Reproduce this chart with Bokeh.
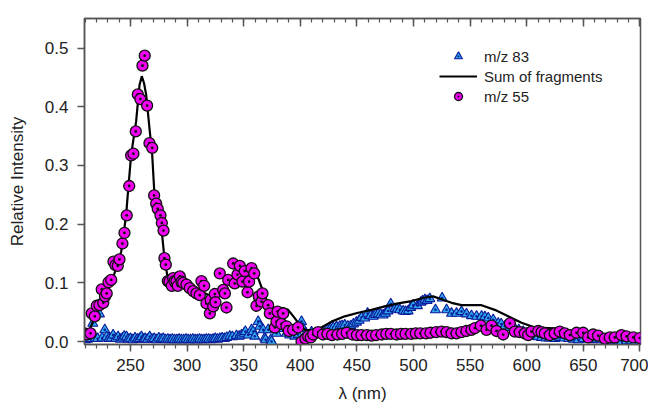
from bokeh.plotting import figure
from bokeh.models import (ColumnDataSource, LinearAxis, SingleIntervalTicker,
                          PrintfTickFormatter, Legend, LegendItem)
from bokeh.embed import file_html
from bokeh.resources import INLINE

# m/z 55 (magenta circles)
mz55_x = [209.6, 211.7, 214.7, 215.8, 218.5, 220.2, 222.6, 224.6, 226.0, 227.5,
          229.0, 230.6, 233.0, 235.0, 236.8, 238.8, 240.3, 242.9, 244.7, 246.7,
          248.9, 250.6, 252.6, 254.7, 256.5, 258.7, 260.6, 262.6, 264.7, 266.8,
          269.2, 270.9, 272.7, 274.1, 276.5, 277.7, 279.2, 280.0, 281.2, 283.0,
          284.5, 286.5, 287.7, 288.9, 290.6, 291.8, 293.6, 295.1, 296.5, 299.5,
          302.4, 305.4, 308.3, 311.2, 312.7, 315.1, 317.1, 320.1, 320.9, 323.1,
          324.5, 325.1, 328.9, 331.9, 333.4, 334.8, 336.3, 340.7, 342.1, 344.5,
          346.6, 348.9, 350.9, 353.4, 354.8, 356.9, 359.3, 361.3, 363.3, 365.7,
          366.6, 371.6, 373.1, 377.5, 379.0, 379.9, 383.4, 384.9, 387.8, 389.8,
          393.7, 398.1, 401.1, 404.6, 407.0, 409.3, 411.4, 415.8,
          420, 424, 428, 433, 437, 441, 446, 450, 454, 459, 463, 467, 472, 476,
          480, 485, 489, 493, 498, 502, 506, 511, 515, 520,
          524.7, 529.2, 533.6, 538.0, 542.4, 546.8, 551.2, 554.2, 559.5, 564.5,
          568.9, 573.3, 579.2, 585.1, 589.5, 593.9, 598.3, 601.3, 604.2, 610.2,
          613.1, 616.0, 620.4, 624.8, 629.2, 633.7, 638.1, 644.0, 649.9, 654.3,
          658.7, 663.1, 669.0, 673.4, 677.8, 683.7, 688.2, 694.1, 699.9]
mz55_y = [0.014, 0.012, 0.014, 0.048, 0.043, 0.061, 0.062, 0.089, 0.066, 0.077,
          0.082, 0.101, 0.105, 0.136, 0.130, 0.129, 0.140, 0.167, 0.185, 0.215,
          0.265, 0.317, 0.320, 0.358, 0.421, 0.413, 0.470, 0.487, 0.402, 0.338,
          0.330, 0.249, 0.235, 0.226, 0.215, 0.202, 0.189, 0.142, 0.131, 0.103,
          0.102, 0.095, 0.108, 0.103, 0.103, 0.095, 0.111, 0.102, 0.100, 0.097,
          0.091, 0.086, 0.082, 0.079, 0.103, 0.095, 0.065, 0.048, 0.071, 0.060,
          0.081, 0.067, 0.116, 0.088, 0.082, 0.058, 0.105, 0.133, 0.099, 0.114,
          0.129, 0.102, 0.120, 0.084, 0.102, 0.125, 0.116, 0.061, 0.077, 0.068,
          0.082, 0.062, 0.048, 0.024, 0.034, 0.051, 0.030, 0.048, 0.026, 0.018,
          0.020, 0.024, 0.000, 0.005, 0.009, 0.007, 0.012, 0.016,
          0.012, 0.013, 0.011, 0.012, 0.013, 0.015, 0.012, 0.011, 0.011, 0.011,
          0.010, 0.011, 0.012, 0.013, 0.013, 0.012, 0.013, 0.013, 0.013, 0.014,
          0.014, 0.014, 0.015, 0.016,
          0.017, 0.016, 0.014, 0.014, 0.016, 0.018, 0.020, 0.023, 0.027, 0.020,
          0.027, 0.018, 0.012, 0.031, 0.017, 0.016, 0.014, 0.011, 0.017, 0.018,
          0.016, 0.014, 0.011, 0.014, 0.017, 0.014, 0.011, 0.015, 0.015, 0.007,
          0.012, 0.010, 0.005, 0.007, 0.007, 0.011, 0.009, 0.007, 0.006]

# m/z 83 (blue triangles)
mz83_x = [210, 212, 214, 216.7, 219, 221, 222.6, 225, 227.3, 229, 231, 233, 234.7,
          237, 239.1, 241, 243, 244.5, 246.5, 248, 250, 252, 254, 256, 258, 259.7,
          261.5, 263, 265, 267, 269, 271, 273, 275, 277, 279, 281, 283, 285, 287,
          289, 291, 293, 295, 297, 299, 301, 303, 305, 307, 309, 311, 313, 315,
          317, 319, 321, 323, 325, 327, 329, 331, 333, 335,
          337.7, 340, 343.6, 346, 348.1, 350.4, 351.5, 354, 356.9, 358.4, 359.8,
          362.8, 364.2, 367.2, 368.6, 369.3, 371.6, 373.9, 374.6, 377.5, 379,
          381.9, 384.9, 387.8, 390.7, 392, 395.1, 398, 401.1, 402.6, 405, 407,
          409.9, 413, 416, 420.2, 424, 426.5, 429.1, 432, 434.9, 437, 439.3, 442,
          444.6, 447, 449.6, 452, 454.1, 457, 459.4, 462, 464.4, 466.5, 468.8,
          471, 473.2, 475.3, 477.5, 479.9, 483.5, 485.5, 487.9, 490.9, 493,
          495.3, 497.5, 499.7, 503.5, 506.5, 508, 510, 512, 514.4, 519.4, 525.3,
          529.2, 533.6, 538, 542.4, 546.8, 551.2, 555.7, 560.1, 563, 566, 570.4,
          574.8, 577.5, 580.7, 585, 589.5, 593, 596.9, 600, 602.7, 605, 607.2,
          610, 613.1, 617, 620, 624.8, 629, 633, 637, 641, 645.5, 650, 654, 658,
          662, 666, 670, 675, 680, 684, 688, 692, 696, 700]
mz83_y = [0.003, 0.004, 0.005, 0.031, 0.006, 0.005, 0.047, 0.006, 0.020, 0.008,
          0.005, 0.006, 0.011, 0.005, 0.008, 0.004, 0.006, 0.009, 0.008, 0.004,
          0.005, 0.003, 0.006, 0.004, 0.005, 0.008, 0.004, 0.005, 0.004, 0.008,
          0.004, 0.005, 0.003, 0.006, 0.004, 0.005, 0.003, 0.004, 0.003, 0.004,
          0.003, 0.003, 0.004, 0.003, 0.003, 0.004, 0.003, 0.003, 0.004, 0.003,
          0.003, 0.004, 0.003, 0.003, 0.004, 0.004, 0.003, 0.004, 0.005, 0.004,
          0.005, 0.006, 0.005, 0.007,
          0.009, 0.008, 0.010, 0.009, 0.011, 0.014, 0.017, 0.011, 0.020, 0.017,
          0.009, 0.034, 0.026, 0.020, 0.006, 0.003, 0.020, 0.003, 0.000, 0.020,
          0.014, 0.031, 0.022, 0.014, 0.011, 0.017, 0.009, 0.012, 0.034, 0.022,
          0.014, 0.011, 0.016, 0.014, 0.015, 0.017, 0.020, 0.022, 0.024, 0.025,
          0.026, 0.027, 0.028, 0.026, 0.027, 0.030, 0.033, 0.036, 0.041, 0.040,
          0.048, 0.044, 0.043, 0.046, 0.047, 0.046, 0.045, 0.048, 0.052, 0.064,
          0.056, 0.055, 0.054, 0.052, 0.051, 0.052, 0.058, 0.062, 0.061, 0.067,
          0.069, 0.071, 0.070, 0.073, 0.054, 0.074, 0.054, 0.048, 0.048, 0.051,
          0.047, 0.044, 0.043, 0.043, 0.042, 0.040, 0.037, 0.031, 0.030, 0.026,
          0.024, 0.022, 0.020, 0.017, 0.014, 0.011, 0.010, 0.009, 0.008, 0.007,
          0.006, 0.006, 0.005, 0.007, 0.006, 0.005, 0.004, 0.003, 0.005, 0.004,
          0.003, 0.004, 0.003, 0.002, 0.002, 0.001, 0.000, 0.001, 0.001, 0.000,
          0.000]

# Sum of fragments (black line)
sum_x = [209.4, 213.8, 217.0, 221.1, 224.0, 227.0, 230.5, 234.4, 238.0, 241.8,
         246.2, 247.6, 250.6, 255.0, 258.0, 260.0, 262.0, 263.9, 266.8, 269.2,
         271.2, 274.7, 277.7, 280.0, 282.4, 286.2, 290.0, 297.7, 303.9, 312.7,
         321.6, 327.5, 334.8, 342.1, 349.6, 358.4, 362.8, 367.2, 371.6, 376.0,
         380.5, 384.9, 389.3, 395.1, 399.6, 404.0, 409.9, 418.7, 427.6, 439.3,
         451.1, 462.9, 474.6, 486.5, 498.2, 510.0, 517.4, 524.7, 533.6, 542.4,
         548.3, 554.2, 560.1, 571.8, 583.6, 595.4, 607.2, 619.0, 630.7, 642.5,
         654.3, 666.1, 677.8, 689.6, 699.9]
sum_y = [0.006, 0.020, 0.035, 0.051, 0.062, 0.074, 0.090, 0.108, 0.128, 0.153,
         0.216, 0.250, 0.318, 0.375, 0.437, 0.452, 0.440, 0.420, 0.363, 0.318,
         0.250, 0.224, 0.187, 0.142, 0.114, 0.102, 0.100, 0.099, 0.091, 0.085,
         0.077, 0.085, 0.102, 0.111, 0.114, 0.116, 0.108, 0.085, 0.065, 0.051,
         0.054, 0.057, 0.054, 0.040, 0.028, 0.020, 0.019, 0.024, 0.034, 0.043,
         0.049, 0.054, 0.060, 0.065, 0.069, 0.075, 0.077, 0.072, 0.066, 0.062,
         0.062, 0.062, 0.062, 0.054, 0.043, 0.032, 0.024, 0.023, 0.022, 0.017,
         0.011, 0.007, 0.005, 0.003, 0.002]

x_ticks_interval = 50
y_ticks_interval = 0.1

FONT = "Liberation Sans"
AXIS_COL = "#555555"

p = figure(frame_width=556, frame_height=326, x_range=(209.4, 700.5),
           y_range=(-0.005, 0.5503), output_backend="svg", toolbar_location=None,
           min_border_left=84, min_border_top=18, min_border_right=8,
           min_border_bottom=40, background_fill_color="white",
           border_fill_color="white")
p.grid.visible = False
p.outline_line_color = AXIS_COL
p.outline_line_width = 1.5

xt = SingleIntervalTicker(interval=x_ticks_interval, num_minor_ticks=5)
yt = SingleIntervalTicker(interval=y_ticks_interval, num_minor_ticks=0)
p.xaxis.ticker = xt
p.yaxis.ticker = yt
p.yaxis.formatter = PrintfTickFormatter(format="%.1f")

for ax in (p.xaxis[0], p.yaxis[0]):
    ax.axis_line_color = AXIS_COL
    ax.axis_line_width = 1.5
    ax.major_tick_line_color = AXIS_COL
    ax.major_tick_line_width = 1.5
    ax.minor_tick_line_color = AXIS_COL
    ax.minor_tick_line_width = 1.2
    ax.major_tick_in = 0
    ax.minor_tick_in = 0
    ax.major_label_text_font = FONT
    ax.major_label_text_font_size = "17px"
    ax.major_label_text_color = "#222222"
    ax.axis_label_text_font = FONT
    ax.axis_label_text_font_size = "17px"
    ax.axis_label_text_font_style = "normal"
    ax.axis_label_text_color = "#222222"

p.xaxis.major_tick_out = 7
p.xaxis.minor_tick_out = 4
p.yaxis.major_tick_out = 7
p.yaxis.minor_tick_out = 0
p.xaxis.axis_label = "λ (nm)"
p.yaxis.axis_label = "Relative Intensity"
p.xaxis.major_label_standoff = 7
p.yaxis.major_label_standoff = 9
p.xaxis.axis_label_standoff = 10
p.yaxis.axis_label_standoff = 15

top = LinearAxis(ticker=SingleIntervalTicker(interval=x_ticks_interval, num_minor_ticks=5),
                 major_tick_in=8, major_tick_out=0, minor_tick_in=4, minor_tick_out=0,
                 major_label_text_font_size="1px", major_label_text_color=None,
                 major_label_standoff=0,
                 axis_line_color=AXIS_COL, axis_line_width=1.5,
                 major_tick_line_color=AXIS_COL, major_tick_line_width=1.5,
                 minor_tick_line_color=AXIS_COL, minor_tick_line_width=1.2)
p.add_layout(top, "above")

src83 = ColumnDataSource(dict(x=mz83_x, y=mz83_y))
src55 = ColumnDataSource(dict(x=mz55_x, y=mz55_y))
srcsum = ColumnDataSource(dict(x=sum_x, y=sum_y))

r83 = p.scatter("x", "y", source=src83, marker="triangle_dot", size=10,
                fill_color="#30a8ec", line_color="#0a1a9a", line_width=1.1)
rsum = p.line("x", "y", source=srcsum, line_color="black", line_width=2.2)
r55 = p.scatter("x", "y", source=src55, marker="circle_dot", size=11,
                fill_color="#f000f0", line_color="#111111", line_width=1.3)

legend = Legend(items=[LegendItem(label="m/z 83", renderers=[r83]),
                       LegendItem(label="Sum of fragments", renderers=[rsum]),
                       LegendItem(label="m/z 55", renderers=[r55])],
                location=(355, 238), border_line_color=None,
                background_fill_alpha=0, label_text_font=FONT,
                label_text_font_size="15px", label_text_color="#222222",
                glyph_width=38, glyph_height=20, label_height=20,
                label_standoff=7, padding=5, spacing=0, margin=0)
p.add_layout(legend)

open("out.html", "w").write(file_html(p, INLINE))
